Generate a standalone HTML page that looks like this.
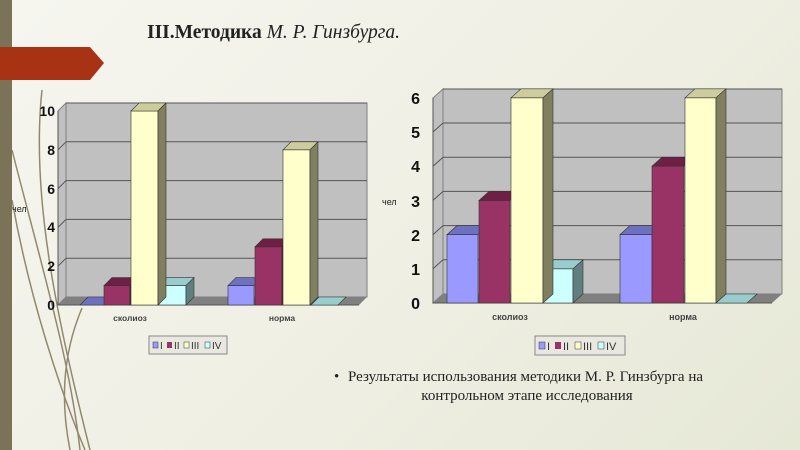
<!DOCTYPE html>
<html><head><meta charset="utf-8"><style>
body{margin:0;width:800px;height:450px;overflow:hidden;background:linear-gradient(135deg,#f6f6f0 0%,#eeeee2 60%,#e6e8d6 100%);font-family:"Liberation Sans",sans-serif}
</style></head><body>
<svg width="800" height="450" xmlns="http://www.w3.org/2000/svg" style="position:absolute;left:0;top:0">
<rect x="0" y="0" width="12" height="450" fill="#7a7358"/>
<polygon points="0,47 90,47 104,63 90,80 0,80" fill="#a83214"/>
<g fill="none" stroke="#7a6e50" stroke-width="1.5" opacity="0.8">
<path d="M42,90 C30,200 60,330 90,450"/><path d="M12,150 C40,260 70,360 80,450"/><path d="M82,308 C60,360 62,410 70,450"/><path d="M12,200 C30,300 60,390 85,450"/>
</g>
<text x="147" y="38" font-family="Liberation Serif,serif" font-size="19.5" font-weight="bold" fill="#222">III.Методика <tspan font-weight="normal" font-style="italic">М. Р. Гинзбурга.</tspan></text>

<!-- LEFT CHART -->
<polygon points="66,103 367,103 367,297 66,297" fill="#c0c0c0" stroke="#808080"/>
<polygon points="58,111 66,103 66,297 58,305" fill="#c0c0c0" stroke="#808080"/>
<polygon points="58,305 66,297 367,297 359,305" fill="#808080"/>
<g stroke="#555" stroke-width="1">
<line x1="66" y1="258.2" x2="367" y2="258.2"/><line x1="58" y1="266.2" x2="66" y2="258.2"/>
<line x1="66" y1="219.4" x2="367" y2="219.4"/><line x1="58" y1="227.4" x2="66" y2="219.4"/>
<line x1="66" y1="180.6" x2="367" y2="180.6"/><line x1="58" y1="188.6" x2="66" y2="180.6"/>
<line x1="66" y1="141.8" x2="367" y2="141.8"/><line x1="58" y1="149.8" x2="66" y2="141.8"/>
<line x1="66" y1="103" x2="367" y2="103"/>
<line x1="58" y1="111" x2="58" y2="305"/><line x1="58" y1="305" x2="359" y2="305"/>
</g>
<g font-size="14" font-weight="bold" fill="#111" text-anchor="end">
<text x="55" y="310">0</text><text x="55" y="271">2</text><text x="55" y="232">4</text><text x="55" y="194">6</text><text x="55" y="155">8</text><text x="55" y="116">10</text>
</g>
<text x="12" y="212" font-size="9" fill="#222">чел</text>
<g stroke="#333" stroke-width="0.6">
<polygon points="80,305 104,305 112,297 88,297" fill="#7070c0"/>
<rect x="104" y="285.6" width="26" height="19.4" fill="#993366"/><polygon points="104,285.6 130,285.6 138,277.6 112,277.6" fill="#6d1f45"/><polygon points="130,285.6 138,277.6 138,297 130,305" fill="#5a1838"/>
<rect x="159" y="285.6" width="27" height="19.4" fill="#ccffff"/><polygon points="159,285.6 186,285.6 194,277.6 167,277.6" fill="#99cccc"/><polygon points="186,285.6 194,277.6 194,297 186,305" fill="#608080"/>
<rect x="131" y="111" width="27" height="194" fill="#ffffcc"/><polygon points="131,111 158,111 166,103 139,103" fill="#cccc9c"/><polygon points="158,111 166,103 166,297 158,305" fill="#808060"/>
<rect x="228" y="285.6" width="26" height="19.4" fill="#9999ff"/><polygon points="228,285.6 254,285.6 262,277.6 236,277.6" fill="#7070c0"/>
<rect x="255" y="246.8" width="27" height="58.2" fill="#993366"/><polygon points="255,246.8 282,246.8 290,238.8 263,238.8" fill="#6d1f45"/><polygon points="282,246.8 290,238.8 290,297 282,305" fill="#5a1838"/>
<rect x="283" y="149.8" width="27" height="155.2" fill="#ffffcc"/><polygon points="283,149.8 310,149.8 318,141.8 291,141.8" fill="#cccc9c"/><polygon points="310,149.8 318,141.8 318,297 310,305" fill="#808060"/>
<polygon points="311,305 338,305 346,297 319,297" fill="#99cccc"/>
</g>
<g font-size="8.5" font-weight="bold" fill="#444" text-anchor="middle"><text x="130" y="321">сколиоз</text><text x="282" y="321">норма</text></g>
<rect x="149" y="336" width="78" height="18" fill="#e8e8e0" stroke="#888"/>
<g font-size="10" fill="#333">
<rect x="153" y="342" width="5" height="6" fill="#9999ff" stroke="#333" stroke-width="0.5"/><text x="160" y="349">I</text>
<rect x="167" y="342" width="5" height="6" fill="#993366"/><text x="174" y="349">II</text>
<rect x="184" y="342" width="5" height="6" fill="#ffffcc" stroke="#333" stroke-width="0.5"/><text x="191" y="349">III</text>
<rect x="205" y="342" width="5" height="6" fill="#ccffff" stroke="#333" stroke-width="0.5"/><text x="212" y="349">IV</text>
</g>

<!-- RIGHT CHART -->
<polygon points="443,89 782,89 782,294 443,294" fill="#c0c0c0" stroke="#808080"/>
<polygon points="433,98 443,89 443,294 433,303" fill="#c0c0c0" stroke="#808080"/>
<polygon points="433,303 443,294 782,294 772,303" fill="#808080"/>
<g stroke="#555">
<line x1="443" y1="259.8" x2="782" y2="259.8"/><line x1="433" y1="268.8" x2="443" y2="259.8"/>
<line x1="443" y1="225.6" x2="782" y2="225.6"/><line x1="433" y1="234.6" x2="443" y2="225.6"/>
<line x1="443" y1="191.4" x2="782" y2="191.4"/><line x1="433" y1="200.4" x2="443" y2="191.4"/>
<line x1="443" y1="157.2" x2="782" y2="157.2"/><line x1="433" y1="166.2" x2="443" y2="157.2"/>
<line x1="443" y1="123" x2="782" y2="123"/><line x1="433" y1="132" x2="443" y2="123"/>
<line x1="443" y1="89" x2="782" y2="89"/>
<line x1="433" y1="98" x2="433" y2="303"/><line x1="433" y1="303" x2="772" y2="303"/>
</g>
<g font-size="16" font-weight="bold" fill="#111" text-anchor="end">
<text x="420" y="309">0</text><text x="420" y="275">1</text><text x="420" y="241">2</text><text x="420" y="207">3</text><text x="420" y="172">4</text><text x="420" y="138">5</text><text x="420" y="104">6</text>
</g>
<text x="382" y="205" font-size="9" fill="#222">чел</text>
<g stroke="#333" stroke-width="0.6">
<rect x="447" y="234.6" width="31" height="68.4" fill="#9999ff"/><polygon points="447,234.6 478,234.6 488,225.6 457,225.6" fill="#7070c0"/>
<rect x="479" y="200.4" width="31" height="102.6" fill="#993366"/><polygon points="479,200.4 510,200.4 520,191.4 489,191.4" fill="#6d1f45"/>
<rect x="543" y="268.8" width="30" height="34.2" fill="#ccffff"/><polygon points="543,268.8 573,268.8 583,259.8 553,259.8" fill="#99cccc"/><polygon points="573,268.8 583,259.8 583,294 573,303" fill="#608080"/>
<rect x="511" y="97.8" width="32" height="205.2" fill="#ffffcc"/><polygon points="511,97.8 543,97.8 553,88.8 521,88.8" fill="#cccc9c"/><polygon points="543,97.8 553,88.8 553,294 543,303" fill="#808060"/>
<rect x="620" y="234.6" width="32" height="68.4" fill="#9999ff"/><polygon points="620,234.6 652,234.6 662,225.6 630,225.6" fill="#7070c0"/>
<rect x="652" y="166.2" width="32" height="136.8" fill="#993366"/><polygon points="652,166.2 684,166.2 694,157.2 662,157.2" fill="#6d1f45"/>
<rect x="685" y="97.8" width="31" height="205.2" fill="#ffffcc"/><polygon points="685,97.8 716,97.8 726,88.8 695,88.8" fill="#cccc9c"/><polygon points="716,97.8 726,88.8 726,294 716,303" fill="#808060"/>
<polygon points="716,303 747,303 757,294 726,294" fill="#99cccc"/>
</g>
<g font-size="9" font-weight="bold" fill="#444" text-anchor="middle"><text x="510" y="320">сколиоз</text><text x="683" y="320">норма</text></g>
<rect x="535" y="336" width="90" height="19" fill="#e8e8e0" stroke="#888"/>
<g font-size="11" fill="#333">
<rect x="539" y="342" width="6" height="7" fill="#9999ff" stroke="#333" stroke-width="0.5"/><text x="547" y="350">I</text>
<rect x="555" y="342" width="6" height="7" fill="#993366"/><text x="563" y="350">II</text>
<rect x="575" y="342" width="6" height="7" fill="#ffffcc" stroke="#333" stroke-width="0.5"/><text x="583" y="350">III</text>
<rect x="598" y="342" width="6" height="7" fill="#ccffff" stroke="#333" stroke-width="0.5"/><text x="606" y="350">IV</text>
</g>
<g font-family="Liberation Serif,serif" font-size="15" fill="#222">
<text x="334" y="381">•</text>
<text x="348" y="381">Результаты использования методики М. Р. Гинзбурга на</text>
<text x="527" y="400" text-anchor="middle">контрольном этапе исследования</text>
</g>
</svg>
</body></html>
